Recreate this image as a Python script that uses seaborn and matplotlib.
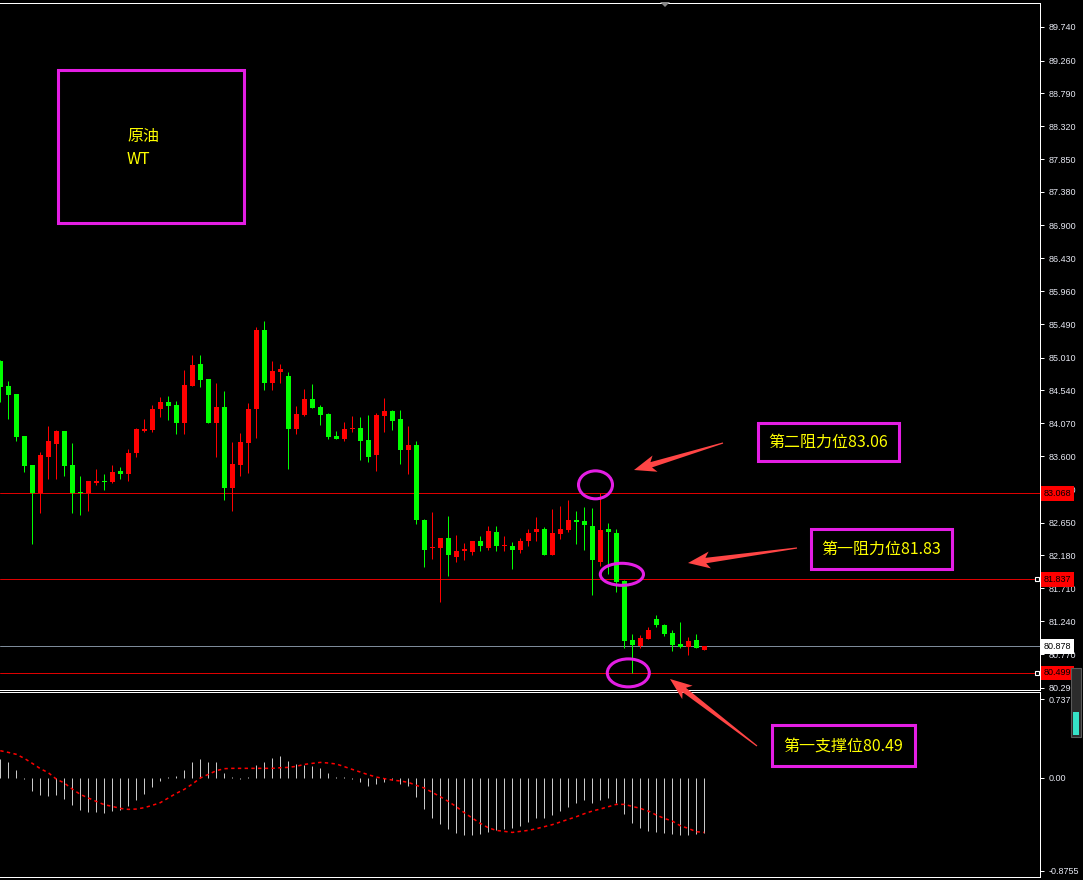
import numpy as np
import pandas as pd
import matplotlib
matplotlib.use("Agg")
import matplotlib.pyplot as plt
import matplotlib.transforms as mtransforms
from matplotlib.patches import Rectangle, Ellipse, Polygon
import seaborn as sns

# ---------------- data ----------------
opens = [84.96, 84.60, 84.49, 83.89, 83.47, 83.07, 83.59, 83.78, 83.96, 83.47,
         83.09, 83.07, 83.22, 83.25, 83.23, 83.39, 83.35, 83.64, 83.96, 83.98,
         84.27, 84.38, 84.33, 84.08, 84.61, 84.92, 84.70, 84.08, 84.30, 83.15,
         83.48, 83.79, 84.27, 85.41, 84.64, 84.80, 84.75, 83.99, 84.19, 84.42,
         84.30, 84.20, 83.89, 83.85, 83.99, 84.00, 83.83, 83.61, 84.18, 84.25,
         84.13, 83.69, 83.76, 82.69, 82.28, 82.28, 82.43, 82.16, 82.25, 82.23,
         82.39, 82.29, 82.52, 82.31, 82.32, 82.26, 82.38, 82.51, 82.56, 82.19,
         82.49, 82.55, 82.69, 82.67, 82.60, 82.09, 82.56, 82.50, 81.81, 80.97,
         80.89, 80.98, 81.27, 81.19, 81.07, 80.91, 80.87, 80.97, 80.83]
highs = [84.98, 84.68, 84.49, 83.89, 83.47, 83.66, 84.03, 83.97, 83.96, 83.79,
         83.32, 83.25, 83.42, 83.35, 83.47, 83.45, 83.70, 84.00, 84.13, 84.33,
         84.45, 84.46, 84.39, 84.83, 85.05, 85.05, 84.70, 84.65, 84.53, 83.80,
         83.93, 84.36, 85.45, 85.53, 84.96, 84.92, 84.80, 84.32, 84.56, 84.63,
         84.33, 84.22, 83.96, 84.09, 84.18, 84.16, 84.19, 84.22, 84.43, 84.26,
         84.26, 84.03, 83.82, 82.70, 82.80, 82.43, 82.74, 82.47, 82.36, 82.39,
         82.46, 82.60, 82.60, 82.46, 82.37, 82.43, 82.56, 82.73, 82.59, 82.84,
         82.89, 82.97, 82.82, 82.87, 82.86, 83.07, 82.64, 82.56, 81.83, 81.06,
         81.04, 81.16, 81.33, 81.20, 81.11, 81.23, 81.01, 81.06, 80.88]
lows = [84.37, 84.13, 83.81, 83.38, 82.35, 82.78, 83.28, 83.28, 83.32, 82.79,
        82.76, 82.81, 83.19, 83.12, 83.22, 83.28, 83.25, 83.59, 83.95, 83.95,
        84.16, 84.12, 83.92, 83.92, 84.61, 84.59, 84.07, 83.59, 82.98, 82.82,
        83.32, 83.36, 83.86, 84.55, 84.54, 84.65, 83.41, 83.92, 84.18, 84.29,
        84.05, 83.84, 83.84, 83.81, 83.95, 83.55, 83.52, 83.39, 83.95, 83.98,
        83.49, 83.34, 82.63, 82.02, 82.13, 81.52, 81.89, 82.08, 82.11, 82.19,
        82.25, 82.26, 82.25, 82.25, 81.99, 82.21, 82.31, 82.39, 82.18, 82.19,
        82.42, 82.52, 82.35, 82.26, 81.62, 82.03, 81.92, 81.65, 80.85, 80.50,
        80.85, 80.98, 81.16, 81.03, 80.82, 80.85, 80.76, 80.85, 80.83]
closes = [84.59, 84.48, 83.88, 83.46, 83.07, 83.62, 83.82, 83.96, 83.46, 83.07,
          83.07, 83.25, 83.25, 83.23, 83.37, 83.34, 83.65, 83.99, 83.99, 84.27,
          84.38, 84.32, 84.08, 84.62, 84.90, 84.69, 84.08, 84.30, 83.15, 83.49,
          83.80, 84.27, 85.41, 84.64, 84.82, 84.85, 83.99, 84.20, 84.42, 84.29,
          84.19, 83.88, 83.85, 83.99, 84.00, 83.82, 83.59, 84.19, 84.25, 84.11,
          83.69, 83.76, 82.69, 82.26, 82.29, 82.43, 82.18, 82.24, 82.27, 82.39,
          82.31, 82.53, 82.31, 82.32, 82.26, 82.39, 82.50, 82.56, 82.19, 82.50,
          82.56, 82.69, 82.66, 82.61, 82.11, 82.54, 82.51, 81.80, 80.96, 80.90,
          81.00, 81.11, 81.18, 81.06, 80.90, 80.87, 80.96, 80.85, 80.878]

macd_hist = [0.176, 0.147, 0.072, -0.013, -0.122, -0.160, -0.169, -0.160, -0.198, -0.254,
             -0.301, -0.320, -0.320, -0.329, -0.311, -0.301, -0.264, -0.207, -0.151, -0.085,
             -0.028, 0.009, 0.019, 0.072, 0.147, 0.176, 0.147, 0.147, 0.044, 0.005,
             -0.010, 0.002, 0.119, 0.147, 0.185, 0.204, 0.157, 0.129, 0.119, 0.110,
             0.091, 0.044, 0.006, 0.006, -0.013, -0.038, -0.075, -0.056, -0.038, -0.019,
             -0.056, -0.075, -0.179, -0.292, -0.376, -0.433, -0.480, -0.518, -0.536, -0.536,
             -0.527, -0.508, -0.489, -0.480, -0.471, -0.452, -0.414, -0.376, -0.376, -0.348,
             -0.311, -0.273, -0.235, -0.207, -0.235, -0.207, -0.188, -0.235, -0.339, -0.424,
             -0.471, -0.499, -0.508, -0.518, -0.527, -0.536, -0.536, -0.527, -0.518]
macd_signal = [0.254, 0.238, 0.220, 0.182, 0.135, 0.085, 0.047, -0.013, -0.050, -0.107,
               -0.157, -0.191, -0.223, -0.254, -0.270, -0.289, -0.298, -0.295, -0.282, -0.260,
               -0.235, -0.191, -0.147, -0.110, -0.060, -0.003, 0.031, 0.066, 0.085, 0.088,
               0.088, 0.088, 0.088, 0.088, 0.088, 0.094, 0.097, 0.107, 0.125, 0.135,
               0.144, 0.138, 0.129, 0.104, 0.078, 0.053, 0.028, 0.006, -0.009, -0.022,
               -0.031, -0.044, -0.072, -0.097, -0.138, -0.179, -0.223, -0.273, -0.329, -0.380,
               -0.430, -0.471, -0.496, -0.505, -0.515, -0.505, -0.496, -0.480, -0.461, -0.442,
               -0.417, -0.392, -0.367, -0.339, -0.314, -0.295, -0.273, -0.251, -0.251, -0.270,
               -0.289, -0.314, -0.351, -0.383, -0.408, -0.452, -0.477, -0.508, -0.515]

price_ticks = [89.740, 89.260, 88.790, 88.320, 87.850, 87.380, 86.900, 86.430, 85.960,
               85.490, 85.010, 84.540, 84.070, 83.600, 83.130, 82.650, 82.180, 81.710,
               81.240, 80.770, 80.290]
macd_ticks = [0.7377, 0.00, -0.8755]
macd_tick_labels = ["0.7377", "0.00", "-0.8755"]

resistance2 = 83.068
resistance1 = 81.837
support1 = 80.499
last_price = 80.878

title_lines = ["原油", "WT"]
note_r2 = "第二阻力位83.06"
note_r1 = "第一阻力位81.83"
note_s1 = "第一支撑位80.49"

# ---------------- styling ----------------
sns.set_style("dark")
plt.rcParams['font.family'] = ['Noto Sans CJK SC', 'DejaVu Sans']
plt.rcParams['axes.facecolor'] = 'black'
plt.rcParams['figure.facecolor'] = 'black'

W, H = 1083, 880
fig = plt.figure(figsize=(W / 100, H / 100), dpi=100)
fig.patch.set_facecolor('black')

px = 0.72  # one pixel in points
UP = '#ff0000'
DN = '#00ff00'
MAG = '#e41ee4'
YEL = '#ffff00'
ARW = '#ff4545'
TXT = '#e6e8f2'

df = pd.DataFrame({"open": opens, "high": highs, "low": lows, "close": closes,
                   "hist": macd_hist, "signal": macd_signal})
df["idx"] = np.arange(len(df))

# layout in pixels
right_px = 1040
main_top, main_bot = 3, 690
macd_top, macd_bot = 692, 877

ax = fig.add_axes([0, 1 - main_bot / H, right_px / W, (main_bot - main_top) / H])
ax2 = fig.add_axes([0, 1 - macd_bot / H, right_px / W, (macd_bot - macd_top) / H])

xlim = (-0.0375, (right_px - 0.3) / 8.0)
for a in (ax, ax2):
    a.set_facecolor('black')
    a.set_xlim(*xlim)
    a.grid(False)
    for s in ('top', 'right', 'bottom'):
        a.spines[s].set_visible(True)
        a.spines[s].set_color('white')
        a.spines[s].set_linewidth(px)
    a.spines['left'].set_visible(False)

ax.set_ylim(80.255, 90.083)
ax2.set_ylim(-0.9344, 0.8064)

# ---------------- candles ----------------
up = df["close"] >= df["open"]
colors = np.where(up, UP, DN)
ax.vlines(df["idx"], df["low"], df["high"], colors=colors, linewidth=px, zorder=3)
body_bottom = np.minimum(df["open"], df["close"])
body_h = np.maximum(np.abs(df["close"] - df["open"]), 0.016)
ax.bar(df["idx"], body_h, bottom=body_bottom, width=0.62, color=colors, linewidth=0, zorder=4)

# horizontal levels
for lv in (resistance2, resistance1, support1):
    ax.axhline(lv, color='#dd0000', linewidth=px, zorder=2)
ax.axhline(last_price, color='#7d8a99', linewidth=px, zorder=2)

# price axis
ax.yaxis.tick_right()
ax.set_yticks(price_ticks)
ax.set_yticklabels([f"{t:.3f}" for t in price_ticks], fontfamily='Liberation Sans',
                   fontsize=6.5, color=TXT)
ax.tick_params(axis='y', colors='white', labelcolor=TXT, length=3, width=px, pad=3,
               direction='out')
ax.set_xticks([])
ax.set_xlabel("")
ax.set_ylabel("")

blend = mtransforms.blended_transform_factory(ax.transAxes, ax.transData)
for lv, fc in ((resistance2, '#ff0000'), (resistance1, '#ff0000'),
               (last_price, '#ffffff'), (support1, '#ff0000')):
    ax.text(1043.5 / right_px, lv, f"{lv:.3f}", transform=blend, ha='left', va='center',
            fontsize=6.5, fontfamily='Liberation Sans', color='black', clip_on=False,
            zorder=10,
            bbox=dict(boxstyle='square,pad=0.3', facecolor=fc, edgecolor='none'))
for lv in (resistance1, support1):
    ax.plot([1 - 3.5 / right_px], [lv], marker='s', ms=3.2, mfc='black', mec='white',
            mew=0.8, transform=blend, clip_on=False, zorder=11)

# ellipses around key candles (data coordinates)
for (cx, cy, ew, eh) in ((74.4, 83.19, 4.25, 0.40), (77.7, 81.91, 5.4, 0.315),
                         (78.5, 80.50, 5.25, 0.40)):
    ax.add_patch(Ellipse((cx, cy), ew, eh, fill=False, edgecolor=MAG,
                         linewidth=2.2, zorder=6, clip_on=False))

# ---------------- MACD ----------------
ax2.vlines(df["idx"], 0, df["hist"], colors='#c8c8c8', linewidth=px, zorder=3)
sns.lineplot(data=df, x="idx", y="signal", ax=ax2, color='#ff0000',
             linewidth=1.1, linestyle=(0, (2.2, 2.2)), zorder=4, legend=False)
ax2.yaxis.tick_right()
ax2.set_yticks(macd_ticks)
ax2.set_yticklabels(macd_tick_labels, fontfamily='Liberation Sans', fontsize=6.5, color=TXT)
ax2.tick_params(axis='y', colors='white', labelcolor=TXT, length=3, width=px, pad=3)
ax2.set_xticks(np.arange(8, 130, 8))
ax2.tick_params(axis='x', colors='white', length=3, width=px, labelbottom=False,
                direction='out')
ax2.set_xlabel("")
ax2.set_ylabel("")

# ---------------- overlay annotations (pixel space) ----------------
ov = fig.add_axes([0, 0, 1, 1], zorder=20)
ov.set_xlim(0, W)
ov.set_ylim(H, 0)
ov.axis('off')
ov.patch.set_alpha(0)


def arrow_poly(tail, tip, head_len=18, head_w=17, shaft_w=5.5, tail_w=1.2):
    t = np.array(tail, float)
    p = np.array(tip, float)
    d = (p - t) / np.linalg.norm(p - t)
    n = np.array([-d[1], d[0]])
    b = p - d * head_len
    bb = b - d * 4
    pts = [t + n * tail_w / 2, b + n * shaft_w / 2, bb + n * head_w / 2, p,
           bb - n * head_w / 2, b - n * shaft_w / 2, t - n * tail_w / 2]
    return Polygon(pts, closed=True, facecolor=ARW, edgecolor='none')


ov.add_patch(arrow_poly((723, 443), (634, 470)))
ov.add_patch(arrow_poly((797, 548), (688, 563)))
ov.add_patch(arrow_poly((757, 746), (670, 679)))

boxes = [((58, 70, 186, 153), None),
         ((758, 423, 141, 38), note_r2),
         ((811, 529, 141, 40), note_r1),
         ((772, 725, 143, 41), note_s1)]
for (x0, y0, bw, bh), label in boxes:
    ov.add_patch(Rectangle((x0, y0), bw, bh, fill=False, edgecolor=MAG, linewidth=2.2))
    if label:
        ov.text(x0 + bw / 2, y0 + bh / 2 + 0.5, label, ha='center', va='center',
                color=YEL, fontsize=11.5)
ov.text(127, 137, title_lines[0], ha='left', va='center', color=YEL, fontsize=11.5)
ov.text(127, 159, title_lines[1], ha='left', va='center', color=YEL, fontsize=11.5)

# small shift marker at top and scrollbar widget
ov.add_patch(Polygon([(660, 2), (670, 2), (665, 7)], closed=True, facecolor='#8a8a8a',
                     edgecolor='none'))
ov.add_patch(Rectangle((1071, 668), 10, 69, facecolor='#2c2c2c', edgecolor='#5a5a5a',
                       linewidth=0.8))
ov.add_patch(Rectangle((1073, 712), 6, 23, facecolor='#35e3c8', edgecolor='none'))

fig.savefig("out.png", dpi=100, facecolor='black')
